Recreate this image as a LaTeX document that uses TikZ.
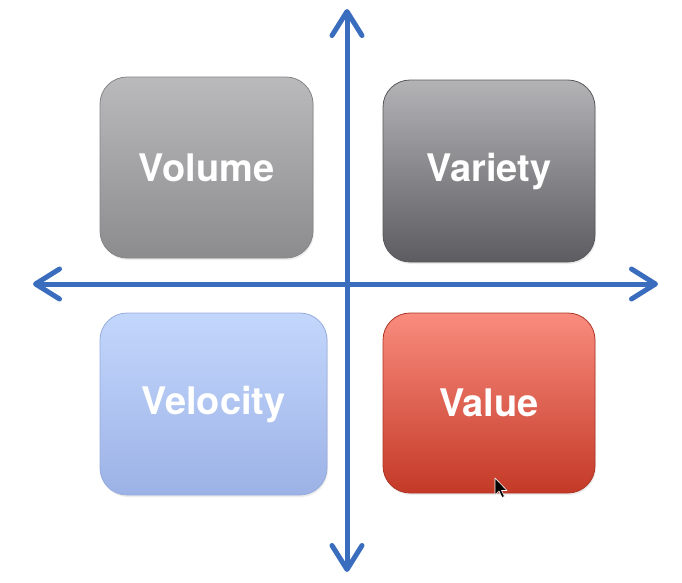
\documentclass[tikz,border=0pt]{standalone}
\usepackage{fontspec}
\setmainfont{TeX Gyre Heros}
\usetikzlibrary{arrows.meta, positioning, shadows}

\definecolor{axisblue}{HTML}{3B6DBF}
\definecolor{volumetop}{HTML}{BAB9BB}
\definecolor{volumebot}{HTML}{8C8B8E}
\definecolor{volumeline}{HTML}{858487}
\definecolor{varietytop}{HTML}{B3B2B5}
\definecolor{varietybot}{HTML}{5D5C60}
\definecolor{varietyline}{HTML}{59585C}
\definecolor{velocitytop}{HTML}{C3D7FC}
\definecolor{velocitybot}{HTML}{9CB2E6}
\definecolor{velocityline}{HTML}{98ACDC}
\definecolor{valuetop}{HTML}{F98C7E}
\definecolor{valuebot}{HTML}{C43927}
\definecolor{valueline}{HTML}{AE3526}

\begin{document}
\begin{tikzpicture}[x=1pt,y=-1pt,>={Straight Barb[length=24pt,width=30pt,line width=5pt,round]}]
        \tikzstyle{block} = [draw, shape=rectangle, rounded corners=27pt, line width=0.8pt,
        font=\fontsize{38}{40}\selectfont\bfseries, text=white,
        drop shadow={opacity=0.15, shadow xshift=1pt, shadow yshift=-2pt}]
        \tikzstyle{axis} = [draw=axisblue, line width=5pt, line cap=round]
        \useasboundingbox (0,0) rectangle (682,582);
        %Creating Blocks
        \node [block, minimum width=213pt, minimum height=181pt, top color=volumetop,
        bottom color=volumebot, draw=volumeline] at (206.5,167.5) (volume) {Volume};
        \node [block, minimum width=212pt, minimum height=182pt, top color=varietytop,
        bottom color=varietybot, draw=varietyline] at (489,171) (variety) {Variety};
        \node [block, minimum width=227pt, minimum height=182pt, top color=velocitytop,
        bottom color=velocitybot, draw=velocityline] at (213.5,404) (velocity) {Velocity};
        \node [block, minimum width=212pt, minimum height=180pt, top color=valuetop,
        bottom color=valuebot, draw=valueline] at (489,403) (value) {Value};

        %Axis ends
        \coordinate (top) at (347,9);
        \coordinate (bottom) at (347,572);
        \coordinate (left) at (33,284);
        \coordinate (right) at (658,284);

        %Connecting
        \draw[axis, <->] (bottom) -- (top);
        \draw[axis, <->] (left) -- (right);

        %Mouse pointer
        \draw[fill=black, draw=white, line width=0.6pt, line join=round]
        (495,478) -- ++(0,17) -- ++(4,-4) -- ++(3,6.5) -- ++(2.5,-1) -- ++(-3,-6) -- ++(5.5,0) -- cycle;
    \end{tikzpicture}
\end{document}
